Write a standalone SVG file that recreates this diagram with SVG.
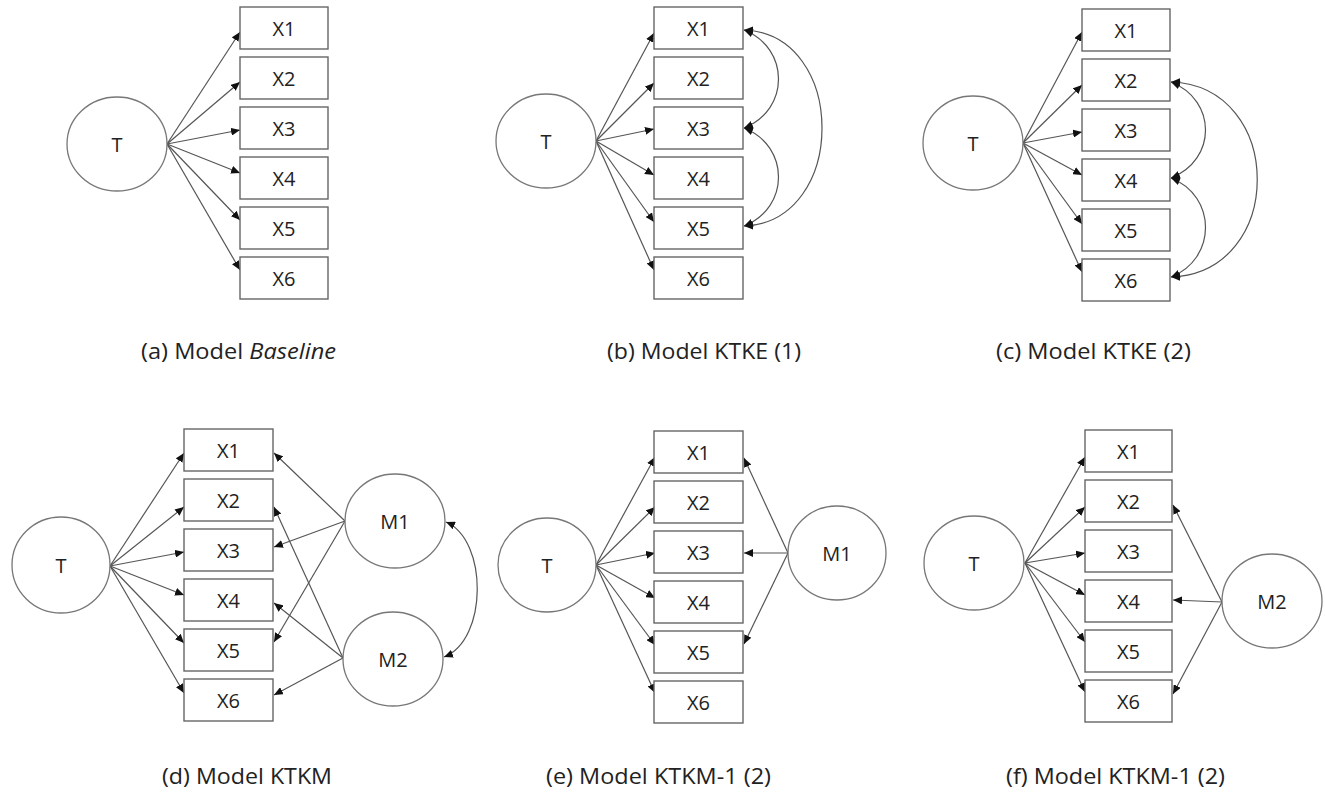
<svg xmlns="http://www.w3.org/2000/svg" width="1325" height="797" viewBox="0 0 1325 797">
<defs>
<marker id="arr" viewBox="0 0 9 8" refX="9" refY="4" markerWidth="9" markerHeight="8" markerUnits="userSpaceOnUse" orient="auto-start-reverse">
<path d="M0,0 L9,4 L0,8 z" fill="#111"/>
</marker>
<style>
.box{fill:#fff;stroke:#666;stroke-width:1.4}
.lat{fill:#fff;stroke:#777;stroke-width:1.3}
.lbl{font-family:"Open Sans","Liberation Sans",sans-serif;font-size:20px;fill:#222;text-anchor:middle;dominant-baseline:central}
.cap{font-family:"Open Sans","Liberation Sans",sans-serif;font-size:21px;fill:#222;text-anchor:start}
.ln{fill:none;stroke:#555;stroke-width:1.2;marker-end:url(#arr)}
.bi{fill:none;stroke:#555;stroke-width:1.2;marker-start:url(#arr);marker-end:url(#arr)}
</style>
</defs>
<rect width="1325" height="797" fill="#fff"/>

<!-- Panel a -->
<g id="a-connectors">
<path class="ln" d="M167,144 L240,32"/>
<path class="ln" d="M167,144 L240,82"/>
<path class="ln" d="M167,144 L240,130"/>
<path class="ln" d="M167,144 L240,173"/>
<path class="ln" d="M167,144 L240,220"/>
<path class="ln" d="M167,144 L240,270"/>
</g>
<g id="a-T"><ellipse class="lat" cx="117" cy="144" rx="50" ry="47"/><text class="lbl" x="117" y="144">T</text></g>
<g id="a-X1"><rect class="box" x="240" y="7" width="88" height="42"/><text class="lbl" x="284" y="28">X1</text></g>
<g id="a-X2"><rect class="box" x="240" y="57" width="88" height="42"/><text class="lbl" x="284" y="78">X2</text></g>
<g id="a-X3"><rect class="box" x="240" y="107" width="88" height="42"/><text class="lbl" x="284" y="128">X3</text></g>
<g id="a-X4"><rect class="box" x="240" y="157" width="88" height="42"/><text class="lbl" x="284" y="178">X4</text></g>
<g id="a-X5"><rect class="box" x="240" y="207" width="88" height="42"/><text class="lbl" x="284" y="228">X5</text></g>
<g id="a-X6"><rect class="box" x="240" y="257" width="88" height="42"/><text class="lbl" x="284" y="278">X6</text></g>
<text class="cap" x="141" y="359" textLength="195" lengthAdjust="spacingAndGlyphs">(a) Model <tspan font-style="italic">Baseline</tspan></text>

<!-- Panel b -->
<g id="b-connectors">
<path class="ln" d="M596,141 L654,33"/>
<path class="ln" d="M596,141 L654,83"/>
<path class="ln" d="M596,141 L654,129"/>
<path class="ln" d="M596,141 L654,175"/>
<path class="ln" d="M596,141 L654,222"/>
<path class="ln" d="M596,141 L654,270"/>
<path class="bi" d="M744,30 C790,48 790,110 744,128"/>
<path class="bi" d="M744,128 C790,146 790,208 744,226"/>
<path class="bi" d="M744,30 C848,34 848,222 744,226"/>
</g>
<g id="b-T"><ellipse class="lat" cx="546" cy="141" rx="50" ry="47"/><text class="lbl" x="546" y="141">T</text></g>
<g id="b-X1"><rect class="box" x="654" y="7" width="89" height="42"/><text class="lbl" x="698.5" y="28">X1</text></g>
<g id="b-X2"><rect class="box" x="654" y="57" width="89" height="42"/><text class="lbl" x="698.5" y="78">X2</text></g>
<g id="b-X3"><rect class="box" x="654" y="107" width="89" height="42"/><text class="lbl" x="698.5" y="128">X3</text></g>
<g id="b-X4"><rect class="box" x="654" y="157" width="89" height="42"/><text class="lbl" x="698.5" y="178">X4</text></g>
<g id="b-X5"><rect class="box" x="654" y="207" width="89" height="42"/><text class="lbl" x="698.5" y="228">X5</text></g>
<g id="b-X6"><rect class="box" x="654" y="257" width="89" height="42"/><text class="lbl" x="698.5" y="278">X6</text></g>
<text class="cap" x="607" y="359" textLength="194" lengthAdjust="spacingAndGlyphs">(b) Model KTKE (1)</text>

<!-- Panel c -->
<g id="c-connectors">
<path class="ln" d="M1023,143 L1082,32"/>
<path class="ln" d="M1023,143 L1082,85"/>
<path class="ln" d="M1023,143 L1082,132"/>
<path class="ln" d="M1023,143 L1082,175"/>
<path class="ln" d="M1023,143 L1082,224"/>
<path class="ln" d="M1023,143 L1082,272"/>
<path class="bi" d="M1171,82 C1217,100 1217,160 1171,178"/>
<path class="bi" d="M1171,178 C1217,196 1217,259 1171,277"/>
<path class="bi" d="M1171,82 C1286,86 1286,273 1171,277"/>
</g>
<g id="c-T"><ellipse class="lat" cx="973" cy="143" rx="50" ry="47"/><text class="lbl" x="973" y="143">T</text></g>
<g id="c-X1"><rect class="box" x="1082" y="9" width="88" height="42"/><text class="lbl" x="1126" y="30">X1</text></g>
<g id="c-X2"><rect class="box" x="1082" y="59" width="88" height="42"/><text class="lbl" x="1126" y="80">X2</text></g>
<g id="c-X3"><rect class="box" x="1082" y="109" width="88" height="42"/><text class="lbl" x="1126" y="130">X3</text></g>
<g id="c-X4"><rect class="box" x="1082" y="159" width="88" height="42"/><text class="lbl" x="1126" y="180">X4</text></g>
<g id="c-X5"><rect class="box" x="1082" y="209" width="88" height="42"/><text class="lbl" x="1126" y="230">X5</text></g>
<g id="c-X6"><rect class="box" x="1082" y="259" width="88" height="42"/><text class="lbl" x="1126" y="280">X6</text></g>
<text class="cap" x="996" y="359" textLength="195" lengthAdjust="spacingAndGlyphs">(c) Model KTKE (2)</text>

<!-- Panel d -->
<g id="d-connectors">
<path class="ln" d="M110,566 L184,453"/>
<path class="ln" d="M110,566 L184,507"/>
<path class="ln" d="M110,566 L184,552"/>
<path class="ln" d="M110,566 L184,595"/>
<path class="ln" d="M110,566 L184,643"/>
<path class="ln" d="M110,566 L184,693"/>
<path class="ln" d="M345,521 L274,453"/>
<path class="ln" d="M345,521 L274,547"/>
<path class="ln" d="M345,521 L274,642"/>
<path class="ln" d="M343,658 L274,507"/>
<path class="ln" d="M343,658 L274,603"/>
<path class="ln" d="M343,658 L274,695"/>
<path class="bi" d="M446,522 C488,540 488,640 444,657"/>
</g>
<g id="d-T"><ellipse class="lat" cx="61" cy="565" rx="49" ry="48"/><text class="lbl" x="61" y="565">T</text></g>
<g id="d-M1"><ellipse class="lat" cx="395" cy="521" rx="50" ry="47"/><text class="lbl" x="395" y="521">M1</text></g>
<g id="d-M2"><ellipse class="lat" cx="393" cy="659" rx="50" ry="47"/><text class="lbl" x="393" y="659">M2</text></g>
<g id="d-X1"><rect class="box" x="184" y="429" width="89" height="42"/><text class="lbl" x="228.5" y="450">X1</text></g>
<g id="d-X2"><rect class="box" x="184" y="479" width="89" height="42"/><text class="lbl" x="228.5" y="500">X2</text></g>
<g id="d-X3"><rect class="box" x="184" y="529" width="89" height="42"/><text class="lbl" x="228.5" y="550">X3</text></g>
<g id="d-X4"><rect class="box" x="184" y="579" width="89" height="42"/><text class="lbl" x="228.5" y="600">X4</text></g>
<g id="d-X5"><rect class="box" x="184" y="629" width="89" height="42"/><text class="lbl" x="228.5" y="650">X5</text></g>
<g id="d-X6"><rect class="box" x="184" y="679" width="89" height="42"/><text class="lbl" x="228.5" y="700">X6</text></g>
<text class="cap" x="162" y="784" textLength="170" lengthAdjust="spacingAndGlyphs">(d) Model KTKM</text>

<!-- Panel e -->
<g id="e-connectors">
<path class="ln" d="M596,565 L655,457"/>
<path class="ln" d="M596,565 L655,507"/>
<path class="ln" d="M596,565 L655,553"/>
<path class="ln" d="M596,565 L655,598"/>
<path class="ln" d="M596,565 L655,645"/>
<path class="ln" d="M596,565 L655,693"/>
<path class="ln" d="M788,553 L744,458"/>
<path class="ln" d="M788,553 L744,553"/>
<path class="ln" d="M788,553 L744,644"/>
</g>
<g id="e-T"><ellipse class="lat" cx="547" cy="565" rx="49" ry="47"/><text class="lbl" x="547" y="565">T</text></g>
<g id="e-M1"><ellipse class="lat" cx="837" cy="553" rx="49" ry="47"/><text class="lbl" x="837" y="553">M1</text></g>
<g id="e-X1"><rect class="box" x="654" y="431" width="89" height="42"/><text class="lbl" x="698.5" y="452">X1</text></g>
<g id="e-X2"><rect class="box" x="654" y="481" width="89" height="42"/><text class="lbl" x="698.5" y="502">X2</text></g>
<g id="e-X3"><rect class="box" x="654" y="531" width="89" height="42"/><text class="lbl" x="698.5" y="552">X3</text></g>
<g id="e-X4"><rect class="box" x="654" y="581" width="89" height="42"/><text class="lbl" x="698.5" y="602">X4</text></g>
<g id="e-X5"><rect class="box" x="654" y="631" width="89" height="42"/><text class="lbl" x="698.5" y="652">X5</text></g>
<g id="e-X6"><rect class="box" x="654" y="681" width="89" height="42"/><text class="lbl" x="698.5" y="702">X6</text></g>
<text class="cap" x="546" y="784" textLength="225" lengthAdjust="spacingAndGlyphs">(e) Model KTKM-1 (2)</text>

<!-- Panel f -->
<g id="f-connectors">
<path class="ln" d="M1025,563 L1085,457"/>
<path class="ln" d="M1025,563 L1085,507"/>
<path class="ln" d="M1025,563 L1085,553"/>
<path class="ln" d="M1025,563 L1085,595"/>
<path class="ln" d="M1025,563 L1085,642"/>
<path class="ln" d="M1025,563 L1085,692"/>
<path class="ln" d="M1222,602 L1173,505"/>
<path class="ln" d="M1222,602 L1173,600"/>
<path class="ln" d="M1222,602 L1173,694"/>
</g>
<g id="f-T"><ellipse class="lat" cx="974" cy="563" rx="50" ry="47"/><text class="lbl" x="974" y="563">T</text></g>
<g id="f-M2"><ellipse class="lat" cx="1272" cy="601" rx="50" ry="47"/><text class="lbl" x="1272" y="601">M2</text></g>
<g id="f-X1"><rect class="box" x="1085" y="430" width="87" height="42"/><text class="lbl" x="1128.5" y="451">X1</text></g>
<g id="f-X2"><rect class="box" x="1085" y="480" width="87" height="42"/><text class="lbl" x="1128.5" y="501">X2</text></g>
<g id="f-X3"><rect class="box" x="1085" y="530" width="87" height="42"/><text class="lbl" x="1128.5" y="551">X3</text></g>
<g id="f-X4"><rect class="box" x="1085" y="580" width="87" height="42"/><text class="lbl" x="1128.5" y="601">X4</text></g>
<g id="f-X5"><rect class="box" x="1085" y="630" width="87" height="42"/><text class="lbl" x="1128.5" y="651">X5</text></g>
<g id="f-X6"><rect class="box" x="1085" y="680" width="87" height="42"/><text class="lbl" x="1128.5" y="701">X6</text></g>
<text class="cap" x="1006" y="784" textLength="219" lengthAdjust="spacingAndGlyphs">(f) Model KTKM-1 (2)</text>
</svg>
